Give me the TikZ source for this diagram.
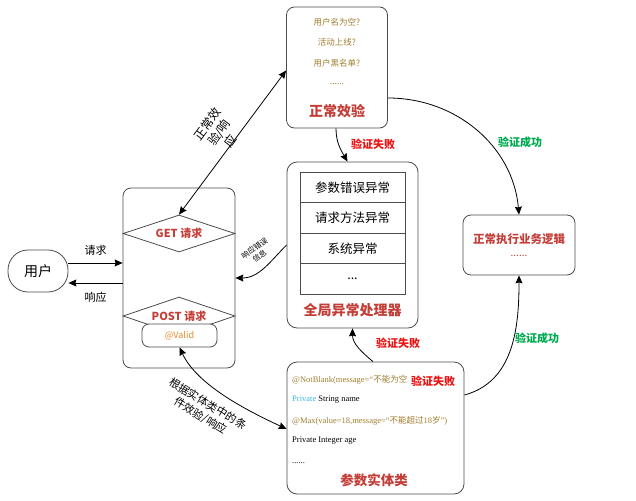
\documentclass[tikz,border=0pt]{standalone}
\usepackage{fontspec}
\setmainfont{Noto Sans CJK SC}
\newfontfamily\lser{Liberation Serif}
\usetikzlibrary{shapes.geometric,positioning,arrows.meta}

\definecolor{titlered}{RGB}{196,62,56}
\definecolor{failred}{RGB}{235,20,20}
\definecolor{okgreen}{RGB}{0,170,80}
\definecolor{olive}{RGB}{160,125,45}
\definecolor{javablue}{RGB}{60,180,230}
\definecolor{validorange}{RGB}{230,140,40}

\newcommand{\fsz}[1]{\fontsize{#1}{\fpeval{1.3*#1}}\selectfont}

\tikzset{
  panel/.style={draw=black!70, line width=0.8pt, rounded corners=8pt, inner sep=0pt},
  cell/.style={draw=black!70, line width=0.8pt, minimum width=105pt, minimum height=30.5pt,
    inner sep=0pt, outer sep=0pt, font=\fsz{12.5}},
  cond/.style={diamond, draw=black!70, line width=0.8pt, aspect=3, minimum width=112pt,
    inner sep=0pt, text=titlered, font=\bfseries\fsz{11}},
  redtitle/.style={text=titlered, font=\bfseries\fsz{14}},
  check/.style={text=olive, font=\fsz{8.5}},
  fail/.style={text=failred, font=\bfseries\fsz{11}},
  ok/.style={text=okgreen, font=\bfseries\fsz{11}},
  code/.style={anchor=west, font=\lser\fsz{8.5}, inner sep=0pt},
  link/.style={->, line width=0.8pt}
}

\begin{document}
\begin{tikzpicture}[x=1pt, y=1pt, >={Stealth[length=8pt,width=7pt,inset=1pt]}]
  \useasboundingbox (0,0) rectangle (636,-500);

  % user and front controller
  \node[panel, rounded corners=20pt, minimum width=60pt, minimum height=42pt, font=\fsz{14}] (user) at (38,-271) {用户};
  \node[panel, minimum width=112pt, minimum height=180pt] (front) at (179,-278) {};
  \node[cond, minimum height=37pt] (get) at (179,-233.5) {GET 请求};
  \node[cond, minimum height=38pt] (post) at (179,-316) {POST 请求};
  \node[panel, rounded corners=7pt, fill=white, minimum width=75pt, minimum height=23pt,
        text=validorange, font=\fsz{9}] (valid) at (179.5,-335.5) {@Valid};

  % normal checks
  \node[panel, minimum width=101pt, minimum height=121pt] (normal) at (337,-67.5) {};
  \node[check] (c1) at (337,-22) {用户名为空?};
  \node[check] (c2) at (337,-42) {活动上线?};
  \node[check] (c3) at (337,-63) {用户黑名单?};
  \node[check] (c4) at (337,-84) {......};
  \node[redtitle] (ntitle) at (337,-111) {正常效验};

  % global exception handler
  \node[panel, rounded corners=10pt, minimum width=131pt, minimum height=166pt] (global) at (352.5,-245) {};
  \node[cell] (e1) at (352.5,-187.5) {参数错误异常};
  \node[cell] (e2) [below=0pt of e1] {请求方法异常};
  \node[cell] (e3) [below=0pt of e2] {系统异常};
  \node[cell] (e4) [below=0pt of e3] {...};
  \node[redtitle] (gtitle) at (352.5,-310) {全局异常处理器};

  % business logic
  \node[panel, minimum width=112pt, minimum height=60pt, align=center, text=titlered] (biz) at (519,-245)
       {{\bfseries\fsz{11.5}正常执行业务逻辑}\\[1pt]{\fsz{10}......}};

  % entity class
  \node[panel, rounded corners=10pt, minimum width=177pt, minimum height=132pt] (entity) at (375.5,-428) {};
  \node[code, text=olive] (l1) at (292,-380) {@NotBlank(message=“{\normalfont\fsz{8.5}不能为空}};
  \node[code] (l2) at (292,-400) {\textcolor{javablue}{Private} String name};
  \node[code, text=olive] (l3) at (292,-421) {@Max(value=18,message=“{\normalfont\fsz{8.5}不能超过}18{\normalfont\fsz{8.5}岁}”)};
  \node[code] (l4) at (292,-441) {Private Integer age};
  \node[code] (l5) at (292,-463) {......};
  \node[redtitle, font=\bfseries\fsz{13.5}] (etitle) at (374,-480) {参数实体类};
  \node[fail, fill=white, inner sep=1pt] (f3) at (433,-381) {验证失败};

  % connectors
  \draw[link] ([yshift=8pt]user.east) -- ([yshift=8pt]user.east -| front.west)
      node[midway, above=4pt, font=\fsz{11}] {请求};
  \draw[link] ([yshift=-12pt]user.east -| front.west) -- ([yshift=-12pt]user.east)
      node[midway, below=5pt, font=\fsz{11}] {响应};
  \draw[link, <->] (get.north) -- ([yshift=-3pt]normal.west)
      node[pos=0.5, sloped, above=-4pt, align=center, font=\fontsize{12}{14}\selectfont, inner sep=1pt] {正常效\\验/响\\应};
  \draw[link] (global.west) to[out=225, in=0] (front.east);
  \node[align=center, rotate=35, font=\fontsize{7.5}{9}\selectfont] (errmsg) at (257,-252) {响应错误\\信息};
  \draw[link] ([xshift=-1pt]normal.south) to[out=-90, in=120] ([xshift=-5pt]global.north);
  \node[fail] (f1) at (373,-144) {验证失败};
  \draw[link] ([xshift=-2.5pt]entity.north) to[out=140, in=-90] (global.south);
  \node[fail] (f2) at (398,-343) {验证失败};
  \draw[link] ([yshift=-30.5pt]normal.east) to[out=0, in=95] (biz.north);
  \node[ok] (s1) at (520,-142) {验证成功};
  \draw[link] ([yshift=33pt]entity.east) to[out=15, in=-90] (biz.south);
  \node[ok] (s2) at (537,-338) {验证成功};
  \draw[link, <->] (valid.south) to[out=-65, in=155, looseness=0.8] ([yshift=-1pt]entity.west);
  \node[align=center, rotate=-31, font=\fontsize{11}{14}\selectfont] (rule) at (204,-410) {根据实体类中的条\\件效验/响应};
\end{tikzpicture}
\end{document}
